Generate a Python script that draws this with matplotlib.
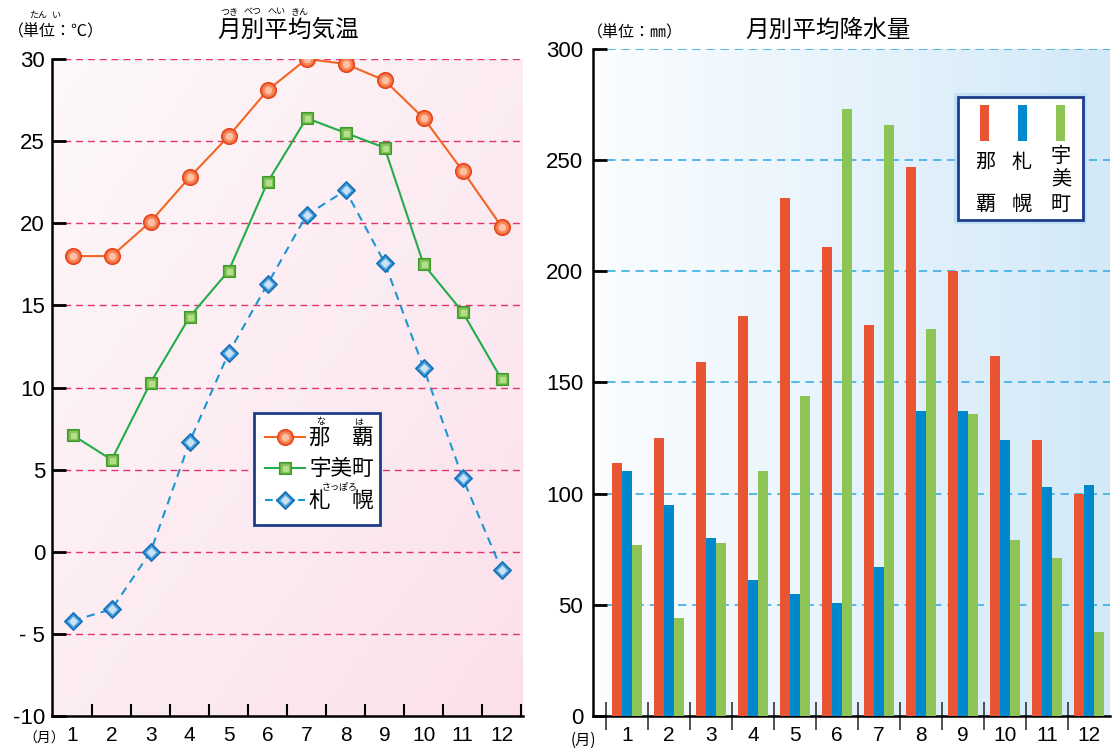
import numpy as np
import matplotlib
matplotlib.use("Agg")
import matplotlib.pyplot as plt
from matplotlib.patches import Rectangle
from matplotlib.lines import Line2D

plt.rcParams['font.family'] = ['Noto Sans CJK JP', 'DejaVu Sans']

# data
months = np.arange(1, 13)
month_labels = [str(m) for m in months]

temp_naha = [18.0, 18.0, 20.1, 22.8, 25.3, 28.1, 30.0, 29.7, 28.7, 26.4, 23.2, 19.8]
temp_umi = [7.1, 5.6, 10.3, 14.3, 17.1, 22.5, 26.4, 25.5, 24.6, 17.5, 14.6, 10.5]
temp_sapporo = [-4.2, -3.5, 0.0, 6.7, 12.1, 16.3, 20.5, 22.0, 17.6, 11.2, 4.5, -1.1]

rain_naha = [114, 125, 159, 180, 233, 211, 176, 247, 200, 162, 124, 100]
rain_sapporo = [110, 95, 80, 61, 55, 51, 67, 137, 137, 124, 103, 104]
rain_umi = [77, 44, 78, 110, 144, 273, 266, 174, 136, 79, 71, 38]

temp_ticks = [-10, -5, 0, 5, 10, 15, 20, 25, 30]
temp_tick_labels = ['-10', '- 5', '0', '5', '10', '15', '20', '25', '30']
rain_ticks = [0, 50, 100, 150, 200, 250, 300]

RED = '#f26522'
GREEN = '#23ac4c'
BLUE = '#1c95d4'
BAR_RED = '#e95532'
BAR_BLUE = '#0088cc'
BAR_GREEN = '#8dc455'
NAVY = '#1f3c8c'
num_font = ['Liberation Sans', 'DejaVu Sans']

W, H = 1119, 751
fig = plt.figure(figsize=(W / 100, H / 100), dpi=100)


def px(x, y):
    return x / W, 1 - y / H


def ftext(x, y, s, size, **kw):
    fx, fy = px(x, y)
    fig.text(fx, fy, s, fontsize=size, ha=kw.pop('ha', 'center'), va=kw.pop('va', 'center'), **kw)


# ---------------- left: temperature ----------------
ax1 = fig.add_axes([52 / W, 1 - 716 / H, (523 - 52) / W, (716 - 59) / H])
yy, xx = np.mgrid[0:1:100j, 0:1:100j]
t = (xx + (1 - yy)) / 2
pink_lo = np.array(matplotlib.colors.to_rgb('#fdf8fa'))
pink_hi = np.array(matplotlib.colors.to_rgb('#fbe0eb'))
grad = pink_lo + (pink_hi - pink_lo) * t[..., None]
ax1.imshow(grad[::-1], extent=(0, 1, 0, 1), transform=ax1.transAxes, aspect='auto', zorder=0)

for v in temp_ticks[1:]:
    ax1.axhline(v, color='#e2356f', lw=1.0, dashes=(5, 3.5), zorder=1)

series = [
    (temp_naha, RED, '-', 'o', 11.5, ['#f25a28', '#f7875c', '#fcc0a3'], '#e5421a'),
    (temp_umi, GREEN, '-', 's', 9, ['#5aad3a', '#86c35a', '#b6dc8e'], '#3f9a2e'),
    (temp_sapporo, BLUE, '--', 'D', 9, ['#1a7fc8', '#5aa6de', '#c8e2f6'], '#176fb4'),
]
for vals, col, ls, mk, ms, fills, edge in series:
    ax1.plot(months, vals, color=col, ls=ls, lw=1.5, zorder=3,
             dashes=(4, 3) if ls == '--' else (None, None))
    for k, fc in enumerate(fills):
        ax1.plot(months, vals, ls='none', marker=mk, ms=ms * (1 - 0.3 * k),
                 mfc=fc, mec=edge if k == 0 else fc, mew=0.8, zorder=4 + k)

ax1.set_xlim(0.47, 12.55)
ax1.set_ylim(-10, 30)
ax1.set_yticks(temp_ticks)
ax1.set_yticklabels(temp_tick_labels, fontsize=16, family=num_font)
ax1.set_xticks(months)
ax1.set_xticklabels(month_labels, fontsize=15, family=num_font)
ax1.set_xticks(np.arange(1.5, 13, 1), minor=True)
ax1.tick_params(axis='y', direction='in', length=10, width=2, pad=5)
ax1.tick_params(axis='x', which='major', length=0, pad=7)
ax1.tick_params(axis='x', which='minor', direction='in', length=9, width=1.5)
for s in ['top', 'right']:
    ax1.spines[s].set_visible(False)
for s in ['left', 'bottom']:
    ax1.spines[s].set_linewidth(1.8)

# legend (left)
lx0, ly0 = px(254, 525)
lx1, ly1 = px(380, 413)
fig.patches.append(Rectangle((lx0, ly0), lx1 - lx0, ly1 - ly0, transform=fig.transFigure,
                             facecolor='white', edgecolor=NAVY, lw=2, zorder=10))
rows = [(437, 0, '那　覇'), (468, 1, '宇美町'), (500, 2, '札　幌')]
for y, i, name in rows:
    vals, col, ls, mk, ms, fills, edge = series[i]
    a, b = px(265, y)
    c, _ = px(305, y)
    fig.lines.append(Line2D([a, c], [b, b], transform=fig.transFigure, color=col, lw=1.5,
                            ls=ls, zorder=11))
    m, _ = px(285, y)
    for k, fc in enumerate(fills):
        fig.lines.append(Line2D([m], [b], transform=fig.transFigure, ls='none', marker=mk,
                                ms=ms * (1 - 0.3 * k), mfc=fc, mec=edge if k == 0 else fc,
                                mew=0.8, zorder=12 + k))
    ftext(309, y + 1, name, 15.5, ha='left', zorder=12)
ftext(321, 422, 'な', 6.5, zorder=12)
ftext(359, 422, 'は', 6.5, zorder=12)
ftext(340, 487, 'さっぽろ', 6.5, zorder=12)

# titles (left)
ftext(288, 30, '月別平均気温', 17)
for s, x in [('つき', 229), ('べつ', 253), ('へい', 276), ('きん', 300)]:
    ftext(x, 12, s, 6.5)
ftext(56, 32, '（単位：℃）', 11.5)
ftext(38, 15, 'たん', 6.5)
ftext(56, 15, 'い', 6.5)
ftext(44, 739, '（月）', 10)

# ---------------- right: precipitation ----------------
ax2 = fig.add_axes([593 / W, 1 - 716 / H, (1110 - 593) / W, (716 - 49) / H])
blue_lo = np.array(matplotlib.colors.to_rgb('#fbfdff'))
blue_hi = np.array(matplotlib.colors.to_rgb('#d2e9f8'))
t2 = np.linspace(0, 1, 200)[None, :].repeat(2, axis=0)
grad2 = blue_lo + (blue_hi - blue_lo) * t2[..., None]
ax2.imshow(grad2, extent=(0, 1, 0, 1), transform=ax2.transAxes, aspect='auto', zorder=0)

for v in rain_ticks[1:]:
    ax2.axhline(v, color='#3aaee6', lw=1.2, dashes=(5, 3.5), zorder=1)

bw = 0.235
ax2.bar(months - 0.245, rain_naha, width=bw, color=BAR_RED, zorder=3)
ax2.bar(months, rain_sapporo, width=bw, color=BAR_BLUE, zorder=3)
ax2.bar(months + 0.245, rain_umi, width=bw, color=BAR_GREEN, zorder=3)

ax2.set_xlim(0.19, 12.5)
ax2.set_ylim(0, 300)
ax2.set_yticks(rain_ticks)
ax2.set_yticklabels([str(v) for v in rain_ticks], fontsize=16, family=num_font)
ax2.set_xticks(months)
ax2.set_xticklabels(month_labels, fontsize=15, family=num_font)
ax2.set_xticks(np.arange(0.5, 12, 1), minor=True)
ax2.tick_params(axis='y', direction='in', length=10, width=2, pad=7)
ax2.tick_params(axis='x', which='major', length=0, pad=7)
ax2.tick_params(axis='x', which='minor', direction='inout', length=20, width=1.2, color='#333333')
for s in ['top', 'right']:
    ax2.spines[s].set_visible(False)
for s in ['left', 'bottom']:
    ax2.spines[s].set_linewidth(1.8)

# legend (right)
gx0, gy0 = px(954, 224)
gx1, gy1 = px(1087, 93)
fig.patches.append(Rectangle((gx0, gy0), gx1 - gx0, gy1 - gy0, transform=fig.transFigure,
                             facecolor='#b8dbf2', edgecolor='none', alpha=0.7, zorder=9))
rx0, ry0 = px(958, 220)
rx1, ry1 = px(1083, 97)
fig.patches.append(Rectangle((rx0, ry0), rx1 - rx0, ry1 - ry0, transform=fig.transFigure,
                             facecolor='white', edgecolor=NAVY, lw=2, zorder=10))
for x, col in [(980, BAR_RED), (1018, BAR_BLUE), (1056, BAR_GREEN)]:
    a, b = px(x, 141)
    c, d = px(x + 9, 105)
    fig.patches.append(Rectangle((a, b), c - a, d - b, transform=fig.transFigure,
                                 facecolor=col, edgecolor='none', zorder=11))
for x, chars in [(985, [('那', 162), ('覇', 204)]), (1022, [('札', 162), ('幌', 204)]),
                 (1061, [('宇', 156), ('美', 180), ('町', 204)])]:
    for ch, y in chars:
        ftext(x, y, ch, 14.5, zorder=12)

ftext(828, 30, '月別平均降水量', 17)
ftext(635, 33, '（単位：㎜）', 11.5)
ftext(583, 740, '(月)', 11)

fig.savefig('out.png', dpi=100)
